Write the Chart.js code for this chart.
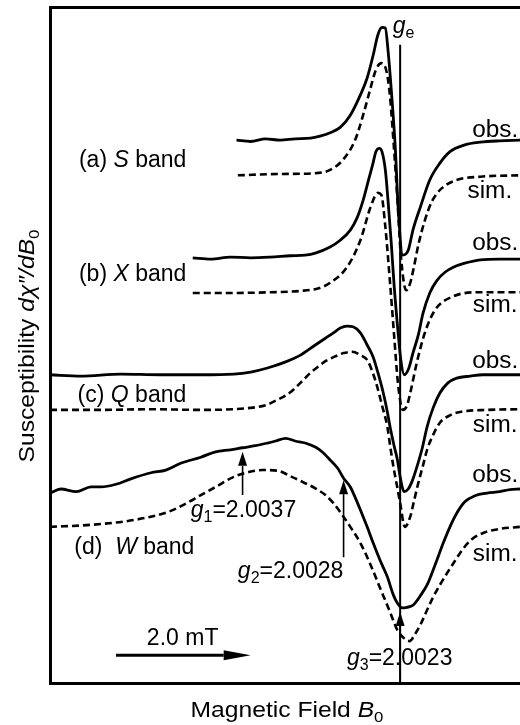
<!DOCTYPE html>
<html>
<head>
<meta charset="utf-8">
<script src="https://cdn.jsdelivr.net/npm/chart.js@4.4.1/dist/chart.umd.min.js"></script>
<style>
  html, body { margin: 0; padding: 0; background: #fff; }
</style>
</head>
<body>
<canvas id="epr" width="520" height="725"></canvas>
<script>
// field offset from g_e in mT, signal in arbitrary units (traces stacked)
const sObsX = [-2.43,-2.22,-2.00,-1.78,-1.56,-1.33,-1.19,-1.04,-0.89,-0.74,-0.59,-0.49,-0.40,-0.33,-0.27,-0.22,-0.18,-0.12,-0.07,-0.03,0.04,0.12,0.19,0.30,0.44,0.59,0.74,0.96,1.19,1.48,1.78];
const sObsY = [80.3,80.1,80.5,80.3,80.5,80.6,80.9,81.4,82.2,84.0,87.0,89.5,92.9,95.9,97.0,96.9,93.6,86.2,78.8,70.4,63.3,64.0,67.0,70.4,74.4,76.9,78.6,79.6,80.0,80.2,80.3];
const sSimX = [-2.41,-1.78,-1.29,-1.04,-0.84,-0.67,-0.55,-0.44,-0.36,-0.28,-0.22,-0.16,-0.10,-0.04,0.01,0.09,0.15,0.21,0.27,0.36,0.47,0.62,0.84,1.19,1.78];
const sSimY = [75.1,75.3,75.4,75.9,77.5,80.3,84.0,88.0,90.7,91.7,91.1,87.7,80.3,71.4,63.3,58.1,59.2,61.8,64.8,68.2,71.2,73.2,74.4,74.9,75.1];

const xObsX = [-3.08,-2.81,-2.52,-2.22,-1.93,-1.63,-1.41,-1.26,-1.04,-0.89,-0.74,-0.64,-0.55,-0.47,-0.41,-0.36,-0.31,-0.27,-0.22,-0.18,-0.13,-0.09,-0.03,0.01,0.06,0.13,0.19,0.27,0.34,0.44,0.55,0.67,0.79,0.96,1.19,1.48,1.78];
const xObsY = [62.9,62.7,63.0,62.9,63.0,63.2,63.3,63.6,64.5,65.5,67.0,68.8,71.4,74.4,76.6,78.6,79.1,78.6,75.9,71.4,64.8,58.9,51.8,47.8,45.6,46.6,48.8,51.5,54.7,57.7,59.6,60.8,61.5,62.1,62.6,62.7,62.7];
const xSimX = [-3.08,-2.52,-1.93,-1.48,-1.21,-1.04,-0.79,-0.59,-0.44,-0.33,-0.28,-0.22,-0.15,-0.09,-0.03,0.04,0.10,0.15,0.25,0.37,0.52,0.79,1.19,1.78];
const xSimY = [57.7,57.7,57.8,58.0,58.4,59.2,61.5,65.5,70.4,72.5,72.2,67.5,59.2,51.5,44.1,40.4,41.0,42.9,47.5,51.9,55.2,57.2,57.8,57.8];

const qObsX = [-5.20,-4.74,-4.15,-3.56,-2.96,-2.47,-2.22,-1.97,-1.70,-1.48,-1.26,-1.11,-0.99,-0.89,-0.79,-0.70,-0.59,-0.49,-0.40,-0.33,-0.25,-0.19,-0.15,-0.09,-0.04,0.00,0.06,0.12,0.18,0.25,0.33,0.40,0.49,0.59,0.71,0.84,1.04,1.23,1.48,1.78];
const qObsY = [45.6,45.4,45.7,45.6,45.6,45.7,46.0,46.6,47.5,48.5,50.0,51.0,51.8,52.5,52.8,52.7,51.8,50.0,48.2,45.9,42.9,40.1,37.9,35.1,33.0,30.5,28.3,28.7,29.9,32.0,34.8,37.9,40.7,42.9,44.4,45.1,45.4,45.6,45.6,45.6];
const qSimX = [-5.20,-4.44,-3.70,-2.96,-2.22,-2.00,-1.82,-1.63,-1.48,-1.33,-1.23,-1.11,-0.99,-0.84,-0.71,-0.59,-0.49,-0.41,-0.34,-0.27,-0.19,-0.15,-0.10,-0.04,0.00,0.07,0.15,0.21,0.27,0.34,0.40,0.49,0.59,0.74,0.89,1.29,1.78];
const qSimY = [40.4,40.4,40.5,40.4,40.7,41.1,41.9,43.0,44.4,45.9,46.7,47.6,48.2,48.8,49.0,48.5,47.8,46.0,43.8,41.1,37.9,35.2,32.0,28.8,26.6,23.1,24.6,27.1,29.6,32.2,34.5,36.7,38.5,39.6,40.1,40.4,40.5];

const wObsX = [-5.20,-5.04,-4.81,-4.59,-4.44,-4.22,-4.00,-3.70,-3.48,-3.26,-2.96,-2.74,-2.52,-2.34,-2.15,-1.97,-1.85,-1.70,-1.56,-1.41,-1.26,-1.16,-1.04,-0.93,-0.84,-0.74,-0.67,-0.59,-0.49,-0.40,-0.30,-0.19,-0.10,-0.04,0.03,0.10,0.19,0.30,0.40,0.52,0.64,0.74,0.84,0.96,1.11,1.29,1.48,1.63,1.78];
const wObsY = [28.1,28.7,28.3,29.0,29.0,29.4,30.2,31.1,31.5,32.5,33.4,34.2,34.5,34.8,35.1,35.5,35.8,36.2,35.8,35.5,34.9,34.2,33.0,31.8,30.3,29.0,27.5,25.6,23.1,20.7,18.2,15.7,13.0,11.8,11.1,11.2,11.5,12.9,14.5,17.5,20.7,23.1,25.1,26.8,27.7,28.1,28.3,28.6,28.7];
const wSimX = [-5.20,-4.59,-3.96,-3.45,-3.19,-2.96,-2.74,-2.47,-2.25,-2.04,-1.82,-1.63,-1.44,-1.26,-1.11,-0.99,-0.89,-0.74,-0.59,-0.44,-0.30,-0.15,-0.04,0.06,0.14,0.22,0.30,0.40,0.49,0.59,0.70,0.81,0.93,1.07,1.26,1.48,1.78];
const wSimY = [23.1,23.4,24.1,25.3,26.5,27.8,29.0,30.5,31.2,31.5,31.4,30.6,29.7,28.8,27.8,26.6,25.3,23.1,20.7,17.5,14.1,10.5,7.8,6.6,6.2,7.2,8.6,10.8,12.7,14.5,16.3,18.0,19.8,21.3,22.3,22.8,23.1];

// g-values marked on the W-band trace (field offset in mT)
const gNames = ['g1', 'g2', 'g3'];
const gValues = ['2.0037', '2.0028', '2.0023'];
const gFields = [-2.34, -0.84, 0.00];
const bands = ['S', 'X', 'Q', 'W'];
const scaleBarMT = 2.0;

const FONT = '"Liberation Sans", Arial, Helvetica, sans-serif';

function pts(xs, ys) {
    return xs.map((x, i) => ({ x: x, y: ys[i] }));
}

function obsSet(xs, ys) {
    return { data: pts(xs, ys), borderColor: '#000', borderWidth: 2.8, fill: false, pointRadius: 0 };
}

function simSet(xs, ys) {
    return { data: pts(xs, ys), borderColor: '#000', borderWidth: 2.6, borderDash: [7, 4], fill: false, pointRadius: 0 };
}

function fontFor(p, size) {
    return (p.it ? 'italic ' : '') + (p.sub ? Math.round(size * 0.7) : size) + 'px ' + FONT;
}

// text made of parts: {t, it, sub}
function richText(ctx, x, y, parts, opts) {
    opts = opts || {};
    const size = opts.size || 23;
    const stretch = opts.stretch || 1;
    const widths = parts.map(p => { ctx.font = fontFor(p, size); return ctx.measureText(p.t).width; });
    const total = widths.reduce((a, b) => a + b, 0) * stretch;
    ctx.save();
    ctx.translate(x, y);
    if (opts.rotate) ctx.rotate(opts.rotate);
    const start = opts.align === 'center' ? -total / 2 : (opts.align === 'right' ? -total : 0);
    ctx.translate(start, 0);
    ctx.scale(stretch, 1);
    ctx.fillStyle = '#000';
    ctx.textAlign = 'left';
    ctx.textBaseline = 'alphabetic';
    let cx = 0;
    parts.forEach((p, i) => {
        ctx.font = fontFor(p, size);
        ctx.fillText(p.t, cx, p.sub ? size * 0.22 : 0);
        cx += widths[i];
    });
    ctx.restore();
}

function arrow(ctx, x1, y1, x2, y2, lw, headLen, headW) {
    const ang = Math.atan2(y2 - y1, x2 - x1);
    const bx = x2 - Math.cos(ang) * headLen;
    const by = y2 - Math.sin(ang) * headLen;
    ctx.save();
    ctx.strokeStyle = '#000';
    ctx.fillStyle = '#000';
    ctx.lineWidth = lw;
    ctx.beginPath();
    ctx.moveTo(x1, y1);
    ctx.lineTo(bx, by);
    ctx.stroke();
    ctx.beginPath();
    ctx.moveTo(x2, y2);
    ctx.lineTo(bx + Math.sin(ang) * headW / 2, by - Math.cos(ang) * headW / 2);
    ctx.lineTo(bx - Math.sin(ang) * headW / 2, by + Math.cos(ang) * headW / 2);
    ctx.closePath();
    ctx.fill();
    ctx.restore();
}

const annotations = {
    id: 'annotations',
    afterDatasetsDraw(chart) {
        const ctx = chart.ctx;
        const xs = chart.scales.x;
        const ys = chart.scales.y;
        const px = v => xs.getPixelForValue(v);
        const py = v => ys.getPixelForValue(v);

        // g_e line
        ctx.save();
        ctx.strokeStyle = '#000';
        ctx.lineWidth = 2;
        ctx.beginPath();
        ctx.moveTo(px(0), py(0));
        ctx.lineTo(px(0), py(94.4));
        ctx.stroke();
        ctx.restore();
        richText(ctx, px(-0.11), py(96.1), [{ t: 'g', it: true }, { t: 'e', sub: true }]);

        // band labels
        const bandX = [-4.77, -4.77, -4.79, -4.84];
        const bandY = [76.3, 59.5, 41.6, 19.1];
        const letters = ['a', 'b', 'c', 'd'];
        bands.forEach((b, i) => {
            const gap = i === 3 ? '  ' : ' ';
            richText(ctx, px(bandX[i]), py(bandY[i]), [{ t: '(' + letters[i] + ')' + gap }, { t: b, it: true }, { t: ' band' }]);
        });

        // obs./sim. labels
        const obsY = [80.8, 64.1, 46.6, 29.7];
        const simY = [71.7, 54.9, 37.1, 18.0];
        obsY.forEach(v => richText(ctx, px(1.07), py(v), [{ t: 'obs.' }], { stretch: 1.06 }));
        simY.forEach((v, i) => richText(ctx, px(i === 0 ? 1.0 : 1.08), py(v), [{ t: 'sim.' }], { stretch: 1.06 }));

        // g arrows and labels
        const arrowFrom = [27.8, 18.6, 0];
        const arrowTip = [34.2, 30.0, 10.5];
        const labelAt = [[-3.11, 24.6], [-2.41, 15.5], [-0.79, 2.7]];
        gNames.forEach((g, i) => {
            arrow(ctx, px(gFields[i]), py(arrowFrom[i]), px(gFields[i]), py(arrowTip[i]), 1.6, 14, 9);
            richText(ctx, px(labelAt[i][0]), py(labelAt[i][1]),
                [{ t: 'g', it: true }, { t: g.slice(1), sub: true }, { t: '=' + gValues[i] }]);
        });

        // field scale bar
        arrow(ctx, px(-4.22), py(4.1), px(-4.22 + scaleBarMT), py(4.1), 3, 27, 10);
        richText(ctx, px(-3.23), py(5.6), [{ t: scaleBarMT.toFixed(1) + ' mT' }], { align: 'center' });
    },
    afterDraw(chart) {
        const ctx = chart.ctx;
        const a = chart.chartArea;
        richText(ctx, (a.left + a.right) / 2 + 2, a.bottom + 34,
            [{ t: 'Magnetic Field ' }, { t: 'B', it: true }, { t: '0', sub: true }],
            { align: 'center', stretch: 1.12, size: 22 });
        richText(ctx, 34, (a.top + a.bottom) / 2 + 1,
            [{ t: 'Susceptibility ' }, { t: 'd\u03C7\u2033/dB', it: true }, { t: '0', sub: true }],
            { align: 'center', stretch: 1.12, size: 22, rotate: -Math.PI / 2 });
    }
};

const frame = { display: true, color: '#000', width: 3 };

new Chart(document.getElementById('epr').getContext('2d'), {
    type: 'line',
    data: {
        datasets: [
            obsSet(sObsX, sObsY), simSet(sSimX, sSimY),
            obsSet(xObsX, xObsY), simSet(xSimX, xSimY),
            obsSet(qObsX, qObsY), simSet(qSimX, qSimY),
            obsSet(wObsX, wObsY), simSet(wSimX, wSimY)
        ]
    },
    options: {
        responsive: false,
        animation: false,
        layout: { padding: 0 },
        elements: { line: { cubicInterpolationMode: 'monotone' }, point: { radius: 0 } },
        plugins: { legend: { display: false }, tooltip: { enabled: false } },
        scales: {
            x: {
                type: 'linear', min: -5.2, max: 1.78, position: 'bottom',
                ticks: { display: false },
                grid: { drawOnChartArea: false, drawTicks: false },
                border: frame,
                afterFit: s => { s.height = 42; }
            },
            xTop: {
                type: 'linear', min: -5.2, max: 1.78, position: 'top',
                ticks: { display: false },
                grid: { drawOnChartArea: false, drawTicks: false },
                border: frame,
                afterFit: s => { s.height = 7; }
            },
            y: {
                type: 'linear', min: 0, max: 100,
                ticks: { display: false },
                grid: { drawOnChartArea: false, drawTicks: false },
                border: frame,
                afterFit: s => { s.width = 50; }
            }
        }
    },
    plugins: [annotations]
});
</script>
</body>
</html>
